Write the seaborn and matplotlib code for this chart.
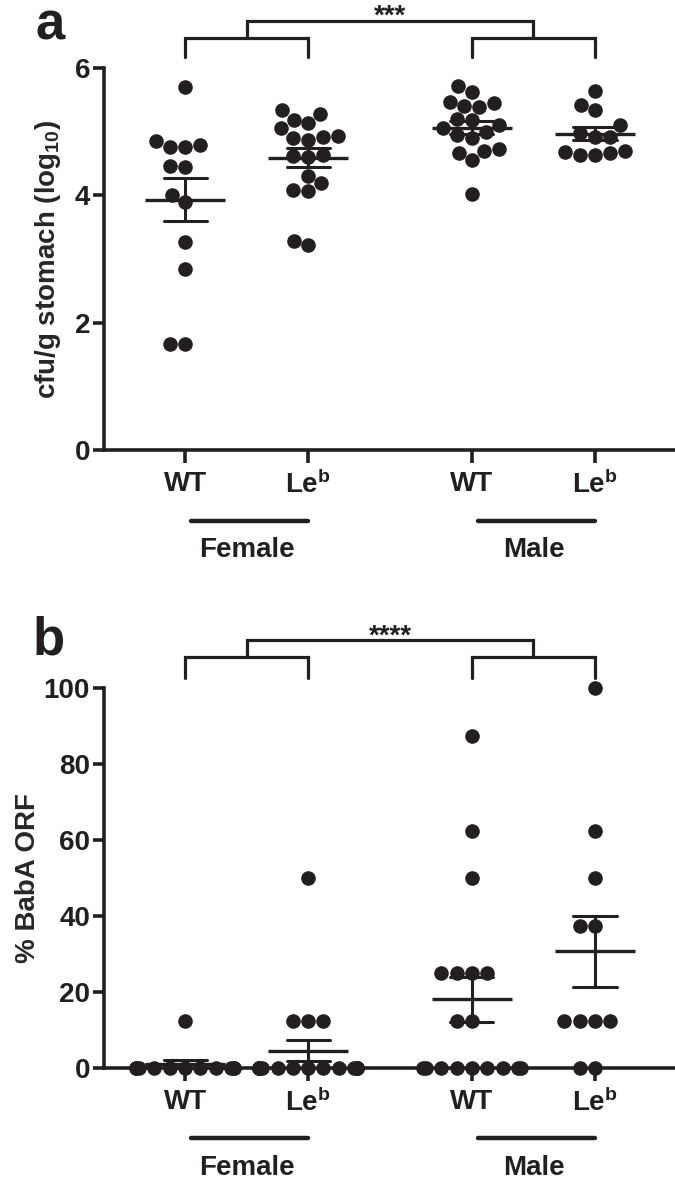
import numpy as np
import pandas as pd
import matplotlib
matplotlib.use("Agg")
import matplotlib.pyplot as plt
import seaborn as sns
from matplotlib import font_manager

# --- dados ---
grupos = ["Female WT", "Female Leb", "Male WT", "Male Leb"]
posicoes = [0, 1, 2.33, 3.33]
rotulos_x = ["WT", "Le$^{b}$", "WT", "Le$^{b}$"]

# painel a: cfu/g estomago (log10)
a_female_wt = [5.70, 4.79, 4.76, 4.86, 4.76, 4.45, 4.46, 4.01, 3.90, 3.27, 2.84, 1.67, 1.67]
a_female_leb = [5.28, 5.34, 5.14, 5.19, 5.05, 4.87, 4.92, 4.93, 4.90, 4.63, 4.61, 4.60,
                4.30, 4.09, 4.07, 4.19, 3.22, 3.29]
a_male_wt = [5.72, 5.62, 5.45, 5.38, 5.47, 5.40, 5.20, 5.18, 5.10, 5.05, 5.00, 4.95,
             4.90, 4.72, 4.67, 4.69, 4.55, 4.02]
a_male_leb = [5.64, 5.34, 5.42, 5.10, 4.92, 4.92, 4.70, 4.66, 4.63, 4.64, 4.68, 4.98]

# painel b: % BabA ORF
b_female_wt = [12.5, 0, 0, 0, 0, 0, 0, 0, 0, 0, 0, 0]
b_female_leb = [50, 12.5, 12.5, 12.5, 0, 0, 0, 0, 0, 0, 0, 0, 0, 0, 0, 0, 0, 0, 0]
b_male_wt = [87.5, 62.5, 50, 25, 25, 25, 25, 12.5, 12.5, 0, 0, 0, 0, 0, 0, 0, 0, 0]
b_male_leb = [100, 62.5, 50, 37.5, 37.5, 12.5, 12.5, 12.5, 12.5, 0, 0]

preto = "#231f20"

sns.set_style("ticks")
nomes = {f.name for f in font_manager.fontManager.ttflist}
fonte = "Liberation Sans" if "Liberation Sans" in nomes else "DejaVu Sans"
plt.rcParams["font.family"] = [fonte, "DejaVu Sans"]
plt.rcParams["font.weight"] = "bold"
plt.rcParams["axes.labelweight"] = "bold"
plt.rcParams["mathtext.fontset"] = "custom"
plt.rcParams["mathtext.rm"] = fonte + ":bold"
plt.rcParams["mathtext.it"] = fonte + ":bold"
plt.rcParams["mathtext.bf"] = fonte + ":bold"
plt.rcParams["mathtext.default"] = "rm"


def montar_df(series):
    linhas = []
    for g, p, vals in zip(grupos, posicoes, series):
        for v in vals:
            linhas.append({"grupo": g, "pos": p, "valor": v})
    return pd.DataFrame(linhas)


def desenhar(ax, df, ymax, yticks, ylabel, brk, labelpad):
    sns.swarmplot(data=df, x="pos", y="valor", native_scale=True, color=preto,
                  size=10.5, linewidth=0, ax=ax, warn_thresh=1)
    for c in ax.collections:
        c.set_clip_on(False)
    sns.pointplot(data=df, x="pos", y="valor", native_scale=True, errorbar="se",
                  capsize=0.35, color=preto, linestyle="none", marker="_",
                  markersize=58, markeredgewidth=2.4, err_kws={"linewidth": 2.2},
                  ax=ax)
    ax.set_xlim(-0.659, 3.98)
    ax.set_ylim(0, ymax)
    ax.set_yticks(yticks)
    ax.set_xticks(posicoes)
    ax.set_xticklabels(rotulos_x)
    ax.set_xlabel("")
    ax.set_ylabel(ylabel, fontsize=20, labelpad=labelpad)
    sns.despine(ax=ax)
    for s in ["left", "bottom"]:
        ax.spines[s].set_linewidth(2.6)
        ax.spines[s].set_color(preto)
    ax.tick_params(axis="both", width=2.6, labelsize=20, color=preto, labelcolor=preto)
    ax.tick_params(axis="y", length=8, pad=2)
    ax.tick_params(axis="x", length=9, pad=6)

    # colchetes de significancia
    perna, nivel, topo, ytxt, estrelas = brk
    kw = dict(color=preto, lw=2.3, clip_on=False, solid_joinstyle="miter")
    for x0, x1 in [(posicoes[0], posicoes[1]), (posicoes[2], posicoes[3])]:
        ax.plot([x0, x0, x1, x1], [perna, nivel, nivel, perna], **kw)
    m1 = (posicoes[0] + posicoes[1]) / 2
    m2 = (posicoes[2] + posicoes[3]) / 2
    ax.plot([m1, m1, m2, m2], [nivel, topo, topo, nivel], **kw)
    ax.text((m1 + m2) / 2, ytxt, estrelas, ha="center", va="baseline",
            fontsize=20, color=preto)

    # linhas de grupo abaixo do eixo
    tr = ax.get_xaxis_transform()
    for x0, x1, nome in [(posicoes[0], posicoes[1], "Female"),
                         (posicoes[2], posicoes[3], "Male")]:
        ax.plot([x0 + 0.05, x1], [-0.185, -0.185], transform=tr, color=preto,
                lw=3.2, solid_capstyle="round", clip_on=False)
        ax.text((x0 + x1) / 2, -0.262, nome, transform=tr, ha="center",
                va="center", fontsize=20, color=preto)


fig = plt.figure(figsize=(6.75, 11.82), dpi=100)
ax_a = fig.add_axes([0.154, 0.6193, 0.846, 0.3232])
ax_b = fig.add_axes([0.154, 0.0964, 0.846, 0.3215])

df_a = montar_df([a_female_wt, a_female_leb, a_male_wt, a_male_leb])
df_b = montar_df([b_female_wt, b_female_leb, b_male_wt, b_male_leb])

desenhar(ax_a, df_a, 6, [0, 2, 4, 6], "cfu/g stomach (log$_{10}$)",
         (6.17, 6.47, 6.74, 6.70, "***"), 8)
desenhar(ax_b, df_b, 100, [0, 20, 40, 60, 80, 100], "% BabA ORF",
         (102.6, 108.2, 112.6, 111.8, "****"), 2)

fig.text(0.052, 0.967, "a", fontsize=38, color=preto, va="baseline")
fig.text(0.049, 0.4459, "b", fontsize=38, color=preto, va="baseline")

fig.savefig("out.png", dpi=100)
